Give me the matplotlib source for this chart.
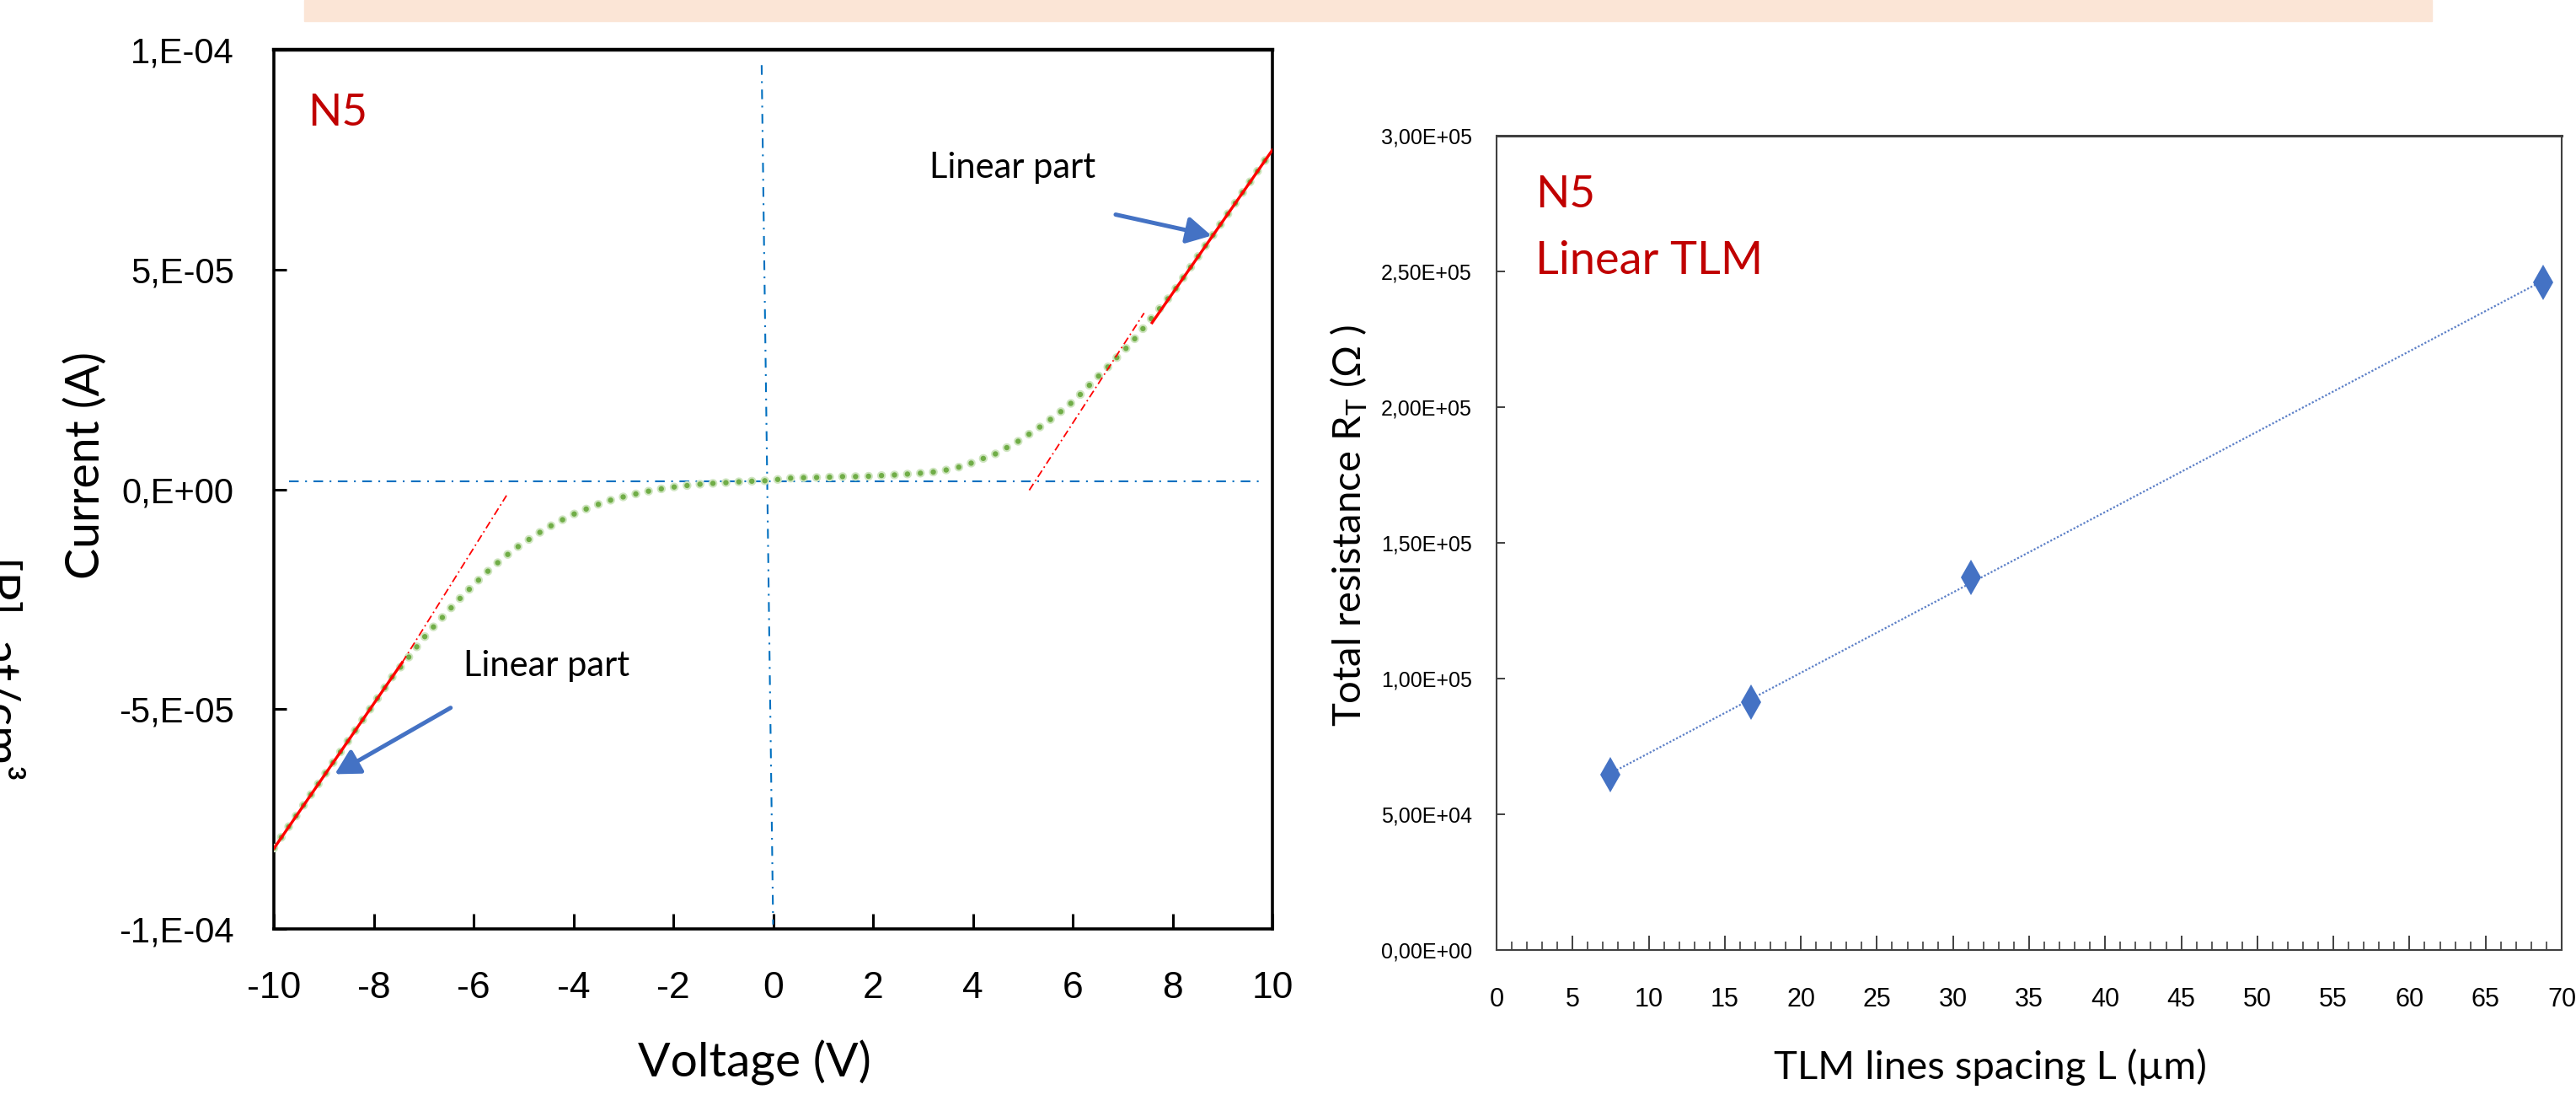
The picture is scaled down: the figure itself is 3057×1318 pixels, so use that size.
import numpy as np
import matplotlib
matplotlib.use("Agg")
import matplotlib.pyplot as plt
from matplotlib import font_manager
from matplotlib.patches import Rectangle
from matplotlib.ticker import FixedLocator, FixedFormatter, MultipleLocator

plt.rcParams["font.family"] = ["Lato", "DejaVu Sans"]
plt.rcParams["axes.unicode_minus"] = False
plt.rcParams["mathtext.fontset"] = "custom"
plt.rcParams["mathtext.rm"] = "Lato"

W, H = 3057, 1318

# tick labels in the reference use a condensed face; take one if installed
_names = {f.name for f in font_manager.fontManager.ttflist}
if "Liberation Sans Narrow" in _names:
    TICKFONT = ["Liberation Sans Narrow", "DejaVu Sans"]
    FS_IV_X, FS_IV_Y, FS_TLM_X, FS_TLM_Y = 39, 37, 26, 22
else:
    TICKFONT = ["Liberation Sans", "DejaVu Sans"]
    FS_IV_X, FS_IV_Y, FS_TLM_X, FS_TLM_Y = 32, 30, 22, 18

# ---- I-V curve of sample N5 (current in 1e-4 A)
iv_volt = [-10.0, -9.5, -9.0, -8.5, -8.0, -7.6,
           -7.39, -7.21, -7.03, -6.83, -6.63, -6.42, -6.22, -6.00, -5.80, -5.58,
           -5.36, -5.13, -4.89, -4.66, -4.42, -4.18, -3.93, -3.68, -3.43, -3.18,
           -2.92, -2.66, -2.40, -2.14, -1.87, -1.61, -1.35, -1.10, -0.84, -0.56,
           -0.30, -0.04,
           0.23, 0.50, 0.75, 1.02, 1.29, 1.55, 1.81, 2.07, 2.34, 2.60, 2.86, 3.12,
           3.38, 3.64, 3.89, 4.15, 4.41, 4.65, 4.89, 5.12, 5.36, 5.58, 5.81, 6.04,
           6.25, 6.46, 6.66, 6.86, 7.07, 7.27, 7.46,
           8.0, 8.5, 9.0, 9.5, 10.0]
iv_curr = [-0.816, -0.734, -0.652, -0.570, -0.488, -0.422,
           -0.395, -0.369, -0.342, -0.316, -0.292, -0.266, -0.242, -0.218, -0.195, -0.173,
           -0.152, -0.132, -0.114, -0.097, -0.081, -0.067, -0.053, -0.042, -0.031, -0.022,
           -0.015, -0.008, -0.002, 0.003, 0.007, 0.010, 0.013, 0.014, 0.016, 0.018,
           0.019, 0.020,
           0.025, 0.026, 0.027, 0.027, 0.029, 0.029, 0.029, 0.031, 0.032, 0.034, 0.036, 0.038,
           0.042, 0.048, 0.056, 0.068, 0.078, 0.093, 0.108, 0.125, 0.143, 0.161, 0.181, 0.203,
           0.227, 0.251, 0.273, 0.297, 0.321, 0.346, 0.373,
           0.446, 0.528, 0.609, 0.691, 0.772]

# linear fits drawn on the curve (solid part, dash-dot extension)
fit_left_v, fit_left_i = [-10.0, -7.43], [-0.817, -0.394]
ext_left_v, ext_left_i = [-7.43, -5.34], [-0.394, -0.014]
fit_right_v, fit_right_i = [7.59, 10.0], [0.379, 0.772]
ext_right_v, ext_right_i = [5.13, 7.43], [-0.002, 0.401]

# reference axes lines
hline_v, hline_i = [-9.69, 9.82], [0.018, 0.018]
vline_v, vline_i = [-0.23, 0.0], [0.965, -0.99]

iv_yticks = [-1e-4, -5e-5, 0, 5e-5, 1e-4]
iv_ylabels = ["-1,E-04", "-5,E-05", "0,E+00", "5,E-05", "1,E-04"]
iv_xticks = list(range(-10, 11, 2))
iv_xlabels = [str(v) for v in iv_xticks]

# ---- TLM data
tlm_L = [7.45, 16.7, 31.2, 68.8]
tlm_R = [64700, 91300, 137200, 246100]
tlm_yticks = [0, 50000, 100000, 150000, 200000, 250000, 300000]
tlm_ylabels = ["0,00E+00", "5,00E+04", "1,00E+05", "1,50E+05",
               "2,00E+05", "2,50E+05", "3,00E+05"]
tlm_xticks = list(range(0, 71, 5))

DARKRED = "#C00000"
GREEN = "#70AD47"
BLUE = "#0070C0"
ARROW = "#4472C4"

fig = plt.figure(figsize=(W / 100, H / 100), dpi=100)
fig.patches.append(Rectangle((361 / W, 1 - 25 / H), (2886 - 361) / W, 25 / H,
                             transform=fig.transFigure, color="#FBE5D6", zorder=0))
fig.text(28 / W, 1 - 660 / H, "[P]  at/cm³", rotation=-90, fontsize=41,
         ha="right", va="top")

# ================= left panel : I-V =================
ax1 = fig.add_axes([325 / W, 1 - 1102 / H, 1185 / W, 1043 / H])
sc = 1e-4
ax1.plot(hline_v, np.array(hline_i) * sc, color=BLUE, lw=1.5,
         linestyle=(0, (5.5, 3.7, 1, 3.7)), zorder=2)
ax1.plot(vline_v, np.array(vline_i) * sc, color=BLUE, lw=1.5,
         linestyle=(0, (5.5, 3.7, 1, 3.7)), zorder=2)
ax1.plot(iv_volt, np.array(iv_curr) * sc, color="#CFE5C0", lw=7.5,
         linestyle=(0, (0.01, 11.1 / 7.5 - 0.01)), dash_capstyle="round", zorder=3)
ax1.plot(iv_volt, np.array(iv_curr) * sc, color=GREEN, lw=4.6,
         linestyle=(0, (0.01, 11.1 / 4.6 - 0.01)), dash_capstyle="round", zorder=4)
for v, i in [(fit_left_v, fit_left_i), (fit_right_v, fit_right_i)]:
    ax1.plot(v, np.array(i) * sc, color="#FF0000", lw=2.4, zorder=5)
for v, i in [(ext_left_v, ext_left_i), (ext_right_v, ext_right_i)]:
    ax1.plot(v, np.array(i) * sc, color="#FF0000", lw=1.3,
             linestyle=(0, (5, 2.2, 1, 2.2)), zorder=5)

aprops = dict(arrowstyle="-|>,head_length=0.55,head_width=0.3", lw=3.6,
              color=ARROW, mutation_scale=32, shrinkA=0, shrinkB=0)
ax1.annotate("", xy=(-8.78, -0.648e-4), xytext=(-6.46, -0.497e-4), arrowprops=aprops, zorder=6)
ax1.annotate("", xy=(8.78, 0.577e-4), xytext=(6.86, 0.625e-4), arrowprops=aprops, zorder=6)
ax1.text(-6.2, -0.424e-4, "Linear part", fontsize=30, va="baseline", ha="left")
ax1.text(3.13, 0.709e-4, "Linear part", fontsize=30, va="baseline", ha="left")
ax1.text(-9.33, 0.8276e-4, "N5", fontsize=38, color=DARKRED, va="baseline", ha="left")

ax1.set_xlim(-10, 10)
ax1.set_ylim(-1e-4, 1e-4)
ax1.xaxis.set_major_locator(FixedLocator(iv_xticks))
ax1.xaxis.set_major_formatter(FixedFormatter(iv_xlabels))
ax1.yaxis.set_major_locator(FixedLocator(iv_yticks))
ax1.yaxis.set_major_formatter(FixedFormatter(iv_ylabels))
ax1.tick_params(axis="x", direction="in", length=13, width=2.2, pad=36)
ax1.tick_params(axis="y", direction="in", length=11, width=2.2, pad=34)
for lab in ax1.get_xticklabels():
    lab.set_family(TICKFONT)
    lab.set_fontsize(FS_IV_X)
for lab in ax1.get_yticklabels():
    lab.set_family(TICKFONT)
    lab.set_fontsize(FS_IV_Y)
for name, sp in ax1.spines.items():
    sp.set_linewidth(3.2 if name == "top" else 2.6)
    sp.set_color("black")

fig.text(895 / W, 1 - 1278 / H, "Voltage (V)", fontsize=41, ha="center", va="baseline")
fig.text(102 / W, 1 - 552 / H, "Current (A)", fontsize=40, rotation=90,
         ha="center", va="center")

# ================= right panel : TLM =================
ax2 = fig.add_axes([1776 / W, 1 - 1127 / H, 1264 / W, 966 / H])
k, b = np.polyfit(tlm_L, tlm_R, 1)
xf = np.array([tlm_L[0], tlm_L[-1]])
ax2.plot(xf, k * xf + b, color="#5B7FC7", lw=1.6, linestyle=(0, (1, 1)), zorder=2)
ax2.plot(tlm_L, tlm_R, linestyle="none", marker="d", markersize=21,
         color=ARROW, markeredgewidth=0, zorder=3)

ax2.set_xlim(0, 70)
ax2.set_ylim(0, 300000)
ax2.xaxis.set_major_locator(FixedLocator(tlm_xticks))
ax2.xaxis.set_minor_locator(MultipleLocator(1))
ax2.xaxis.set_major_formatter(FixedFormatter([str(t) for t in tlm_xticks]))
ax2.yaxis.set_major_locator(FixedLocator(tlm_yticks))
ax2.yaxis.set_major_formatter(FixedFormatter(tlm_ylabels))
ax2.tick_params(axis="x", which="major", direction="in", length=12, width=1.4,
                color="#404040", pad=32)
ax2.tick_params(axis="x", which="minor", direction="in", length=7, width=1.2,
                color="#404040")
ax2.tick_params(axis="y", direction="in", length=7, width=1.4, color="#404040", pad=21)
for lab in ax2.get_xticklabels():
    lab.set_family(TICKFONT)
    lab.set_fontsize(FS_TLM_X)
for lab in ax2.get_yticklabels():
    lab.set_family(TICKFONT)
    lab.set_fontsize(FS_TLM_Y)
for name, sp in ax2.spines.items():
    sp.set_linewidth(2.2 if name == "top" else 1.5)
    sp.set_color("#404040")

ax2.text(0.0364, 0.912, "N5", transform=ax2.transAxes, fontsize=38,
         color=DARKRED, va="baseline", ha="left")
ax2.text(0.0364, 0.830, "Linear TLM", transform=ax2.transAxes, fontsize=39,
         color=DARKRED, va="baseline", ha="left")

fig.text(2362 / W, 1 - 1280 / H, "TLM lines spacing L (µm)", fontsize=34,
         ha="center", va="baseline")
fig.text(1601 / W, 1 - 623 / H, "Total resistance R$_\\mathregular{T}$ (Ω )",
         fontsize=34, rotation=90, ha="center", va="center")

fig.savefig("out.png", dpi=100)
